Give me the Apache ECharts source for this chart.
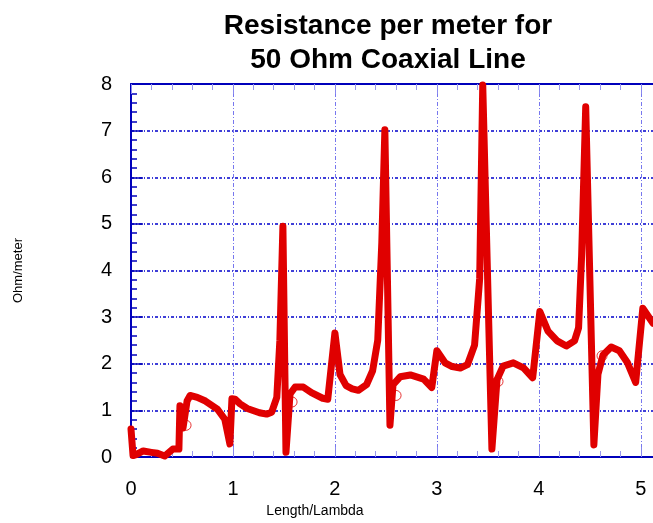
<!DOCTYPE html>
<html>
<head>
<meta charset="utf-8">
<script src="https://cdn.jsdelivr.net/npm/echarts@6/dist/echarts.min.js"></script>
<style>
  html, body { margin: 0; padding: 0; background: #fff; }
  #chart { width: 653px; height: 523px; }
</style>
</head>
<body>
<div id="chart"></div>
<script>
// [length/lambda, ohm/meter]
const resistance = [
  [0, 0.6], [0.02, 0.03], [0.05, 0.05], [0.12, 0.13], [0.2, 0.1], [0.26, 0.08],
  [0.33, 0.02], [0.41, 0.17], [0.47, 0.17], [0.48, 1.1], [0.51, 0.62], [0.55, 1.2],
  [0.58, 1.32], [0.65, 1.28], [0.73, 1.2], [0.85, 1.02], [0.92, 0.81], [0.97, 0.28],
  [0.99, 1.25], [1.02, 1.24], [1.07, 1.14], [1.14, 1.04], [1.26, 0.95], [1.33, 0.92],
  [1.38, 0.96], [1.43, 1.28], [1.46, 2.5], [1.49, 4.95], [1.52, 0.1], [1.56, 1.35],
  [1.61, 1.5], [1.69, 1.5], [1.77, 1.38], [1.88, 1.26], [1.93, 1.24], [2.0, 2.66],
  [2.05, 1.77], [2.11, 1.53], [2.17, 1.46], [2.23, 1.43], [2.31, 1.55], [2.37, 1.85], [2.42, 2.5],
  [2.46, 4.6], [2.49, 7.02], [2.54, 0.68], [2.57, 1.55], [2.64, 1.72], [2.74, 1.76],
  [2.87, 1.67], [2.95, 1.49], [3.0, 2.28], [3.08, 2.02], [3.15, 1.94], [3.23, 1.91], [3.3, 1.98],
  [3.37, 2.4], [3.42, 3.83], [3.45, 7.98], [3.54, 0.17], [3.59, 1.66], [3.65, 1.95],
  [3.75, 2.02], [3.85, 1.91], [3.94, 1.7], [4.01, 3.12], [4.09, 2.7], [4.18, 2.49],
  [4.27, 2.38], [4.35, 2.49], [4.39, 2.77], [4.42, 4.32], [4.46, 7.51], [4.54, 0.26],
  [4.58, 1.77], [4.63, 2.19], [4.71, 2.36], [4.79, 2.28], [4.87, 2.02], [4.95, 1.6],
  [5.02, 3.19], [5.12, 2.87]
]
const markers = [[0.54, 0.68], [1.58, 1.18], [2.6, 1.32], [3.6, 1.62], [4.62, 2.17]]

const FONT = 'Liberation Sans, Arial, sans-serif'
const RED = '#e00000'
const AXIS_BLUE = '#0000bb'

const chart = echarts.init(document.getElementById('chart'), null, { renderer: 'canvas' })

const option = {
  animation: false,
  title: {
    text: 'Resistance per meter for\n50 Ohm Coaxial Line',
    left: 383,
    top: 4,
    textAlign: 'center',
    textStyle: { fontFamily: FONT, fontSize: 28, fontWeight: 'bold', color: '#000', lineHeight: 34 },
  },
  grid: { left: 131, right: 0, top: 84, bottom: 62, containLabel: false },
  xAxis: [
    {
      type: 'value', min: 0, max: 5.12, interval: 1,
      name: 'Length/Lambda',
      nameLocation: 'middle',
      nameGap: 47,
      nameTextStyle: { fontFamily: FONT, fontSize: 14, color: '#000', padding: [0, 154, 0, 0] },
      axisLine: { lineStyle: { color: AXIS_BLUE, width: 2 } },
      axisTick: { inside: true, length: 10, lineStyle: { color: '#8888ee' } },
      minorTick: { show: true, splitNumber: 5, length: 6, lineStyle: { color: '#9999ee' } },
      axisLabel: { fontFamily: FONT, fontSize: 20, color: '#000', margin: 22, showMaxLabel: false },
      splitLine: { show: true, lineStyle: { color: '#7777ee', width: 1, type: [4, 2, 1, 2] } },
    },
    {
      type: 'value', min: 0, max: 5.12, interval: 1, position: 'top',
      axisLine: { lineStyle: { color: AXIS_BLUE, width: 2 } },
      axisTick: { inside: true, length: 10, lineStyle: { color: '#8888ee' } },
      minorTick: { show: true, splitNumber: 5, length: 6, lineStyle: { color: '#9999ee' } },
      axisLabel: { show: false },
      splitLine: { show: false },
    },
  ],
  yAxis: {
    type: 'value', min: 0, max: 8, interval: 1,
    name: 'Ohm/meter',
    nameLocation: 'middle',
    nameGap: 106,
    nameTextStyle: { fontFamily: FONT, fontSize: 13, color: '#000' },
    axisLine: { show: true, lineStyle: { color: AXIS_BLUE, width: 2 } },
    axisTick: { inside: true, length: 12, lineStyle: { color: AXIS_BLUE, width: 1.5 } },
    minorTick: { show: true, splitNumber: 5, length: 6, lineStyle: { color: AXIS_BLUE, width: 1.5 } },
    axisLabel: { fontFamily: FONT, fontSize: 20, color: '#000', margin: 19 },
    splitLine: { show: true, lineStyle: { color: '#0000cc', width: 1.5, type: [3, 2, 1, 2] } },
  },
  series: [
    {
      type: 'line',
      data: resistance,
      xAxisIndex: 0,
      symbol: 'none',
      smooth: false,
      lineStyle: { color: RED, width: 7, join: 'round', cap: 'round' },
      z: 3,
    },
    {
      type: 'scatter',
      data: markers,
      xAxisIndex: 0,
      symbol: 'circle',
      symbolSize: 10,
      itemStyle: { color: 'rgba(0,0,0,0)', borderColor: RED, borderWidth: 1 },
      z: 4,
    },
  ],
}

chart.setOption(option)
</script>
</body>
</html>
